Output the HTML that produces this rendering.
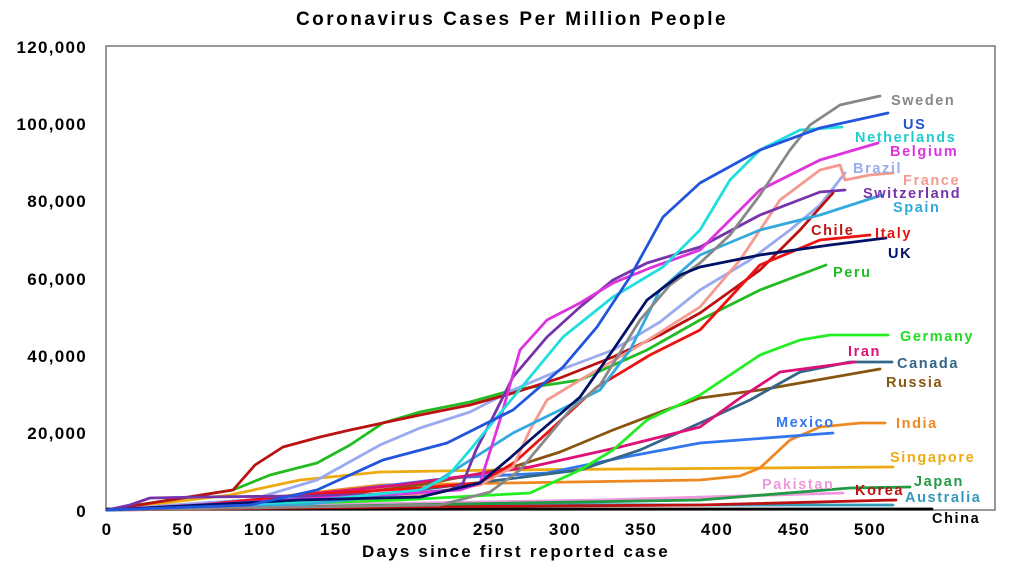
<!DOCTYPE html>
<html><head><style>
body{margin:0;background:#fff;}
svg{display:block;font-family:"Liberation Sans",sans-serif;font-weight:bold;}
</style></head><body>
<svg width="1024" height="566" viewBox="0 0 1024 566">
<rect width="1024" height="566" fill="#fff"/>
<text x="512" y="25" text-anchor="middle" font-size="19" letter-spacing="2.5">Coronavirus Cases Per Million People</text>
<rect x="106" y="46" width="889" height="464" fill="none" stroke="#777" stroke-width="1.5"/>
<g font-size="17" text-anchor="end" letter-spacing="1.3">
<text x="87" y="53">120,000</text><text x="87" y="130">100,000</text><text x="87" y="207">80,000</text>
<text x="87" y="285">60,000</text><text x="87" y="362">40,000</text><text x="87" y="439">20,000</text><text x="87" y="517">0</text>
</g>
<g font-size="17" text-anchor="middle" letter-spacing="1.3">
<text x="107" y="535">0</text><text x="183" y="535">50</text><text x="260" y="535">100</text><text x="336" y="535">150</text>
<text x="412" y="535">200</text><text x="489" y="535">250</text><text x="565" y="535">300</text><text x="641" y="535">350</text>
<text x="717" y="535">400</text><text x="794" y="535">450</text><text x="870" y="535">500</text>
</g>
<text x="516" y="557" text-anchor="middle" font-size="17" letter-spacing="2.2">Days since first reported case</text>
<g fill="none" stroke-width="2.8" stroke-linejoin="round" stroke-linecap="round">
<polyline stroke="#000" points="107,509 300,509 932,509"/>
<polyline stroke="#3399bb" points="107,510 400,504 700,505 893,505"/>
<polyline stroke="#bb1111" points="107,510 400,507 700,505 896,500"/>
<polyline stroke="#ee99dd" points="107,510 300,505 600,500 843,493"/>
<polyline stroke="#229944" points="107,510 400,505 700,500 850,488 910,487"/>
<polyline stroke="#eeaa11" points="107,510 230,495 300,480 380,472 500,470 893,467"/>
<polyline stroke="#ee8822" points="107,510 250,500 380,485 700,480 740,476 760,468 790,440 820,427 860,423 885,423"/>
<polyline stroke="#3377ee" points="107,510 250,505 350,490 450,478 547,473 620,458 700,443 833,433"/>
<polyline stroke="#885511" points="107,510 300,500 420,485 513,467 560,452 613,430 660,412 700,398 760,390 880,369"/>
<polyline stroke="#336688" points="107,510 250,505 400,492 500,480 580,470 640,450 700,423 750,400 800,372 850,362 892,362"/>
<polyline stroke="#dd1177" points="107,510 250,500 400,485 530,467 620,447 700,427 740,398 780,372 855,362"/>
<polyline stroke="#22ee22" points="107,510 250,505 400,500 530,493 580,470 613,450 647,420 700,395 730,375 760,355 800,340 830,335 888,335"/>
<polyline stroke="#22bb22" points="107,510 233,490 270,475 317,463 350,445 383,423 420,412 470,402 513,390 580,380 647,350 700,320 760,290 826,265"/>
<polyline stroke="#99aaee" points="107,510 200,503 250,500 317,480 380,445 420,428 470,412 513,390 560,370 613,350 660,322 700,290 750,260 790,230 820,205 845,173"/>
<polyline stroke="#bb1111" points="107,510 233,490 255,465 283,447 320,437 350,430 420,415 470,405 513,393 560,378 613,357 660,335 700,313 760,270 800,230 833,193"/>
<polyline stroke="#ee1111" points="107,510 200,505 300,495 420,488 480,483 515,462 547,433 597,387 650,355 700,330 760,265 820,240 870,235"/>
<polyline stroke="#f59a8f" points="107,510 400,497 480,485 513,467 530,430 547,400 580,380 640,345 700,307 740,260 780,200 820,170 840,165 845,180 870,175 893,173"/>
<polyline stroke="#33aadd" points="107,510 300,505 420,492 513,433 560,410 600,390 630,350 660,290 700,255 760,230 820,215 882,195"/>
<polyline stroke="#7733aa" points="107,510 130,505 150,498 200,497 300,496 400,494 450,490 463,483 476,450 490,423 513,377 547,337 580,307 613,280 647,263 700,247 760,215 820,192 845,190"/>
<polyline stroke="#dd33dd" points="107,510 250,502 380,495 460,490 480,483 500,420 520,350 547,320 580,303 613,283 650,268 700,250 760,190 820,160 878,143"/>
<polyline stroke="#22dddd" points="107,510 300,502 420,490 447,477 470,450 497,417 530,377 563,337 613,297 663,267 700,230 730,180 760,150 800,130 842,127"/>
<polyline stroke="#888" points="107,510 440,505 490,492 520,470 545,440 570,410 600,385 640,320 670,285 700,263 730,235 760,195 790,150 810,125 840,105 880,96"/>
<polyline stroke="#001166" points="107,510 300,500 420,497 480,483 510,458 530,440 580,397 613,350 647,300 680,275 700,267 760,255 830,245 886,238"/>
<polyline stroke="#2255dd" points="107,510 250,505 317,490 383,460 447,443 513,410 563,367 597,327 630,277 663,217 700,183 760,150 820,128 888,113"/>
</g>
<g font-size="14.5" letter-spacing="1.6">
<text x="891" y="105" fill="#888">Sweden</text>
<text x="903" y="129" fill="#2255cc">US</text>
<text x="855" y="142" fill="#22cccc">Netherlands</text>
<text x="890" y="156" fill="#dd33dd">Belgium</text>
<text x="853" y="173" fill="#99aaee">Brazil</text>
<text x="903" y="185" fill="#f59a8f">France</text>
<text x="863" y="198" fill="#7733aa">Switzerland</text>
<text x="893" y="212" fill="#33aadd">Spain</text>
<text x="811" y="235" fill="#bb1111">Chile</text>
<text x="875" y="238" fill="#ee1111">Italy</text>
<text x="888" y="258" fill="#001166">UK</text>
<text x="833" y="277" fill="#22bb22">Peru</text>
<text x="900" y="341" fill="#22dd22">Germany</text>
<text x="848" y="356" fill="#dd1177">Iran</text>
<text x="897" y="368" fill="#336688">Canada</text>
<text x="886" y="387" fill="#885511">Russia</text>
<text x="776" y="427" fill="#3377ee">Mexico</text>
<text x="896" y="428" fill="#ee8822">India</text>
<text x="890" y="462" fill="#eeaa11">Singapore</text>
<text x="914" y="486" fill="#229944">Japan</text>
<text x="762" y="489" fill="#ee99dd">Pakistan</text>
<text x="855" y="495" fill="#bb1111">Korea</text>
<text x="905" y="502" fill="#3399bb">Australia</text>
<text x="932" y="523" fill="#000">China</text>
</g>
</svg>
</body></html>
